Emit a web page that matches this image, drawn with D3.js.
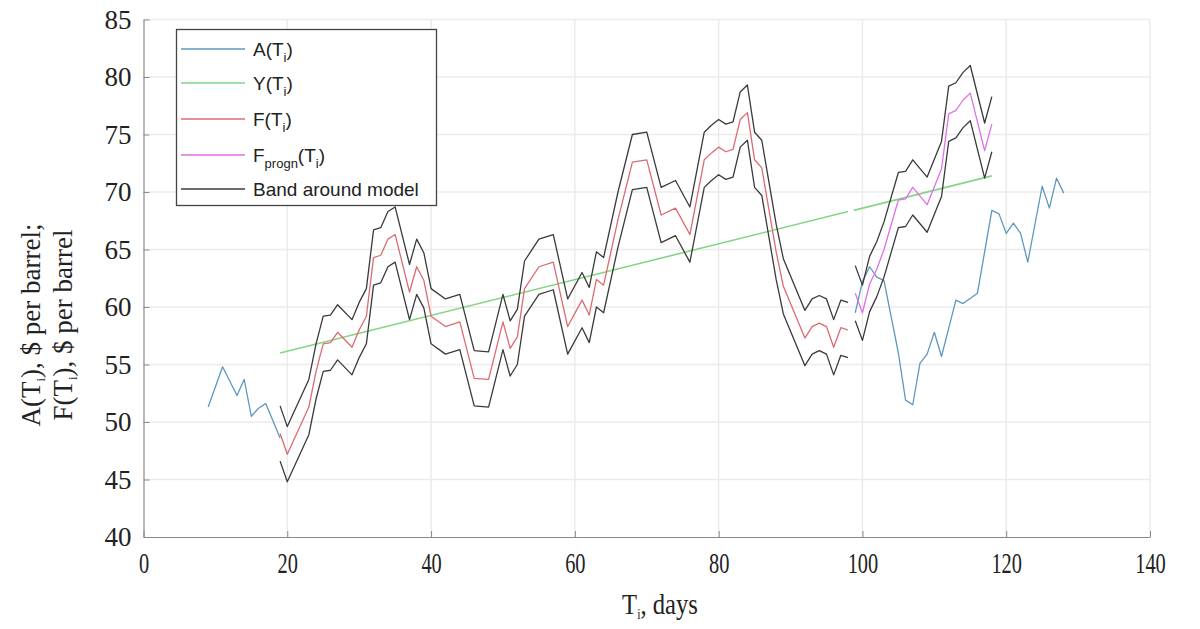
<!DOCTYPE html>
<html><head><meta charset="utf-8">
<script src="https://cdn.jsdelivr.net/npm/d3@7"></script>
<style>body{margin:0;background:#fff}svg{display:block}</style>
</head><body><svg id="c" width="1200" height="629"></svg>
<script>
// ---- data ----
const xTicks = [0,20,40,60,80,100,120,140];
const yTicks = [40,45,50,55,60,65,70,75,80,85];

const aDaysEarly = [9,11,13,14,15,16,17,19];
const aValsEarly = [51.3,54.8,52.3,53.7,50.5,51.2,51.6,48.6];
const aDaysLate = [99,100,101,102,103,105,106,107,108,109,110,111,113,114,116,117,118,119,120,121,122,123,125,126,127,128];
const aValsLate = [59.5,62.2,63.5,62.6,62.3,56.0,51.9,51.5,55.1,55.9,57.8,55.7,60.6,60.3,61.2,64.8,68.4,68.1,66.4,67.3,66.4,63.9,70.5,68.6,71.2,69.9];

const yDays1 = [19,98];
const yVals1 = [56.0,68.3];
const yDays2 = [98.8,118];
const yVals2 = [68.4,71.4];

const fDays = [19,20,23,24,25,26,27,29,30,31,32,33,34,35,37,38,39,40,42,44,46,48,50,51,52,53,55,57,59,61,62,63,64,66,68,70,72,74,76,78,79,80,81,82,83,84,85,86,88,89,92,93,94,95,96,97,98];
const fVals = [49.0,47.2,51.3,54.4,56.8,56.9,57.8,56.5,58.0,59.2,64.3,64.5,65.9,66.3,61.3,63.5,62.3,59.2,58.3,58.7,53.8,53.7,58.7,56.4,57.4,61.6,63.5,63.9,58.3,60.6,59.3,62.4,61.9,67.6,72.6,72.8,68.0,68.6,66.3,72.8,73.4,73.9,73.5,73.7,76.3,76.9,72.8,72.1,64.8,61.8,57.3,58.3,58.6,58.3,56.5,58.2,58.0];
const fUpper = [51.4,49.6,53.7,56.8,59.2,59.3,60.2,58.9,60.4,61.6,66.7,66.9,68.3,68.7,63.7,65.9,64.7,61.6,60.7,61.1,56.2,56.1,61.1,58.8,59.8,64.0,65.9,66.3,60.7,63.0,61.7,64.8,64.3,70.0,75.0,75.2,70.4,71.0,68.7,75.2,75.8,76.3,75.9,76.1,78.7,79.3,75.2,74.5,67.2,64.2,59.7,60.7,61.0,60.7,58.9,60.6,60.4];
const fLower = [46.6,44.8,48.9,52.0,54.4,54.5,55.4,54.1,55.6,56.8,61.9,62.1,63.5,63.9,58.9,61.1,59.9,56.8,55.9,56.3,51.4,51.3,56.3,54.0,55.0,59.2,61.1,61.5,55.9,58.2,56.9,60.0,59.5,65.2,70.2,70.4,65.6,66.2,63.9,70.4,71.0,71.5,71.1,71.3,73.9,74.5,70.4,69.7,62.4,59.4,54.9,55.9,56.2,55.9,54.1,55.8,55.6];

const pDays = [99,100,101,102,103,105,106,107,109,111,112,113,114,115,117,118];
const pVals = [61.2,59.5,62.0,63.3,65.0,69.3,69.4,70.4,68.9,72.0,76.8,77.1,78.0,78.6,73.6,75.9];
const pUpper = [63.6,61.9,64.4,65.7,67.4,71.7,71.8,72.8,71.3,74.4,79.2,79.5,80.4,81.0,76.0,78.3];
const pLower = [58.8,57.1,59.6,60.9,62.6,66.9,67.0,68.0,66.5,69.6,74.4,74.7,75.6,76.2,71.2,73.5];

// ---- drawing ----
const svg = d3.select('#c');
const x = d3.scaleLinear().domain([0,140]).range([143.5,1150]);
const y = d3.scaleLinear().domain([40,85]).range([537,19.5]);

// grid
svg.append('g').selectAll('line').data(xTicks.slice(1)).join('line')
  .attr('x1',d=>x(d)).attr('x2',d=>x(d)).attr('y1',y(85)).attr('y2',y(40))
  .attr('stroke','#ebebeb').attr('stroke-width',1.5);
svg.append('g').selectAll('line').data(yTicks.slice(1)).join('line')
  .attr('x1',x(0)).attr('x2',x(140)).attr('y1',d=>y(d)).attr('y2',d=>y(d))
  .attr('stroke','#ebebeb').attr('stroke-width',1.5);

// axes
const xAxis = svg.append('g').attr('transform',`translate(0,${y(40)})`)
  .call(d3.axisBottom(x).tickValues(xTicks).tickSizeInner(-6).tickSizeOuter(0).tickPadding(14));
const yAxis = svg.append('g').attr('transform',`translate(${x(0)},0)`)
  .call(d3.axisLeft(y).tickValues(yTicks).tickSizeInner(-6).tickSizeOuter(0).tickPadding(12));
[xAxis,yAxis].forEach(g=>{
  g.select('.domain').attr('stroke','#8a8a8a').attr('stroke-width',1.2);
  g.selectAll('.tick line').attr('stroke','#8a8a8a').attr('stroke-width',1);
});
xAxis.selectAll('.tick text').attr('font-family','Liberation Serif').attr('font-size',30)
  .attr('fill','#222').attr('dy','0.75em').attr('transform','scale(0.68,1)');
yAxis.selectAll('.tick text').attr('font-family','Liberation Serif').attr('font-size',27)
  .attr('fill','#222');

function pts(ds,vs){return ds.map((d,i)=>[d,vs[i]]);}
const line = d3.line().x(d=>x(d[0])).y(d=>y(d[1]));
function draw(data,color,w){
  svg.append('path').attr('d',line(data)).attr('fill','none')
    .attr('stroke',color).attr('stroke-width',w).attr('stroke-linejoin','round');
}
const cA='#5d98bd', cY='#85d585', cF='#dc6b70', cP='#e070e6', cB='#3a3a3a';
draw(pts(aDaysEarly,aValsEarly),cA,1.3);
draw(pts(aDaysLate,aValsLate),cA,1.3);
draw(pts(yDays1,yVals1),cY,1.6);
draw(pts(yDays2,yVals2),cY,1.6);
draw(pts(fDays,fVals),cF,1.3);
draw(pts(pDays,pVals),cP,1.3);
draw(pts(fDays,fUpper),cB,1.3);
draw(pts(fDays,fLower),cB,1.3);
draw(pts(pDays,pUpper),cB,1.3);
draw(pts(pDays,pLower),cB,1.3);

// legend
const lg = svg.append('g');
lg.append('rect').attr('x',176.5).attr('y',29.5).attr('width',260).attr('height',176)
  .attr('fill','#fff').attr('stroke','#444').attr('stroke-width',1.3);
const items = [
  {c:cA, main:'A(T', sub:'i', tail:')'},
  {c:cY, main:'Y(T', sub:'i', tail:')'},
  {c:cF, main:'F(T', sub:'i', tail:')'},
  {c:cP, main:'F', sub:'progn', tail:'(T', sub2:'i', tail2:')'},
  {c:cB, main:'Band around model'}
];
const rowY = [49,83,119,155,189];
items.forEach((it,i)=>{
  const ry = rowY[i];
  lg.append('line').attr('x1',181).attr('x2',245).attr('y1',ry).attr('y2',ry)
    .attr('stroke',it.c).attr('stroke-width',1.4);
  const t = lg.append('text').attr('x',253).attr('y',ry+7)
    .attr('font-family','Liberation Sans').attr('font-size',19).attr('fill','#222');
  t.append('tspan').text(it.main);
  if(it.sub){
    t.append('tspan').attr('font-size',13).attr('dy',6).text(it.sub);
    t.append('tspan').attr('dy',-6).text(it.tail);
  }
  if(it.sub2){
    t.append('tspan').attr('font-size',13).attr('dy',6).text(it.sub2);
    t.append('tspan').attr('dy',-6).text(it.tail2);
  }
});

// axis titles
const xt = svg.append('text').attr('transform','translate(660,614) scale(0.85,1)')
  .attr('text-anchor','middle').attr('font-family','Liberation Serif').attr('font-size',29).attr('fill','#222');
xt.append('tspan').text('T');
xt.append('tspan').attr('font-size',14).attr('dy',5).text('i');
xt.append('tspan').attr('dy',-5).text(', days');

function yTitle(xpos, lead){
  const t = svg.append('text').attr('transform',`translate(${xpos},325) rotate(-90)`)
    .attr('text-anchor','middle').attr('font-family','Liberation Serif').attr('font-size',27).attr('fill','#222');
  t.append('tspan').text(lead+'(T');
  t.append('tspan').attr('font-size',13).attr('dy',5).text('i');
  t.append('tspan').attr('dy',-5).text(lead==='A' ? '), $ per barrel;' : '), $ per barrel');
}
yTitle(40,'A');
yTitle(72,'F');
</script></body></html>
